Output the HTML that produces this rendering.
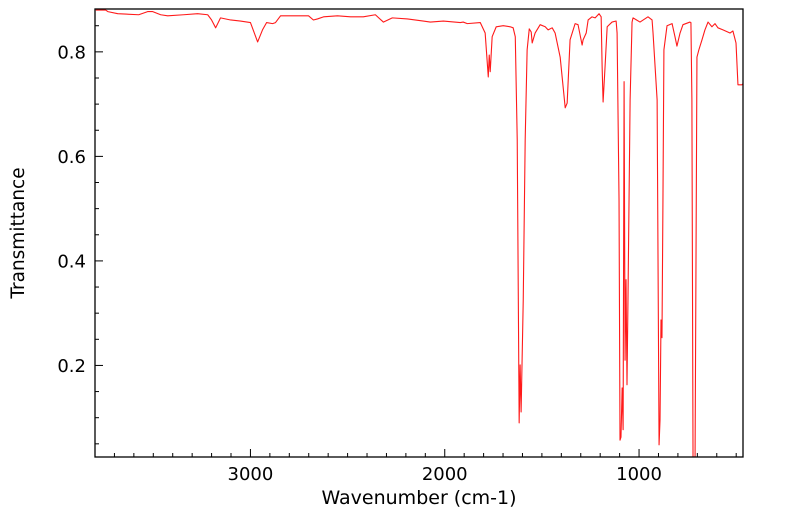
<!DOCTYPE html>
<html><head><meta charset="utf-8"><style>
html,body{margin:0;padding:0;background:#fff;}
svg{display:block;font-family:"DejaVu Sans","Liberation Sans",sans-serif;}
</style></head><body>
<svg id="chart" width="799" height="516" viewBox="0 0 799 516" xmlns="http://www.w3.org/2000/svg">
<defs><clipPath id="plotclip"><rect x="95" y="9" width="648" height="448"/></clipPath></defs>
<g id="axes"></g>
<path id="spectrum" fill="none" stroke="#ff1a1a" stroke-width="1.1" stroke-linejoin="round" clip-path="url(#plotclip)"/>
<rect x="95" y="9" width="648" height="448" fill="none" stroke="#000" stroke-width="1.3"/>
<text x="419" y="504" font-size="19" text-anchor="middle">Wavenumber (cm-1)</text>
<text x="24" y="233" font-size="18.5" text-anchor="middle" transform="rotate(-90 24 233)">Transmittance</text>
</svg>
<script>
const wavenumbers = [3796,3745,3734,3683,3575,3529,3503,3462,3426,3344,3272,3220,3200,3179,3154,3102,3051,3000,2963,2938,2917,2886,2871,2845,2794,2701,2676,2655,2624,2552,2485,2419,2357,2316,2270,2192,2110,2074,2007,1920,1905,1884,1817,1792,1776,1771,1766,1756,1735,1699,1663,1648,1637,1627,1617,1612,1607,1596,1586,1576,1565,1555,1550,1535,1509,1483,1468,1447,1432,1406,1380,1370,1355,1329,1314,1293,1288,1272,1262,1242,1226,1206,1195,1190,1185,1175,1164,1139,1118,1113,1103,1098,1093,1087,1082,1077,1072,1067,1062,1057,1046,1036,1031,995,954,933,928,907,897,892,887,882,877,872,856,830,815,805,789,774,738,733,728,722,712,702,692,676,661,645,625,609,594,568,532,517,501,491,470,455];
const transmittance = [0.880,0.880,0.877,0.873,0.871,0.877,0.877,0.871,0.869,0.871,0.873,0.871,0.861,0.846,0.865,0.861,0.859,0.856,0.819,0.842,0.856,0.854,0.856,0.869,0.869,0.869,0.861,0.863,0.867,0.869,0.867,0.867,0.871,0.857,0.865,0.863,0.859,0.857,0.859,0.856,0.857,0.854,0.856,0.836,0.752,0.794,0.762,0.829,0.848,0.850,0.848,0.846,0.829,0.632,0.090,0.201,0.111,0.325,0.632,0.804,0.844,0.838,0.817,0.836,0.852,0.848,0.842,0.846,0.836,0.790,0.693,0.702,0.823,0.854,0.852,0.813,0.823,0.836,0.861,0.867,0.865,0.873,0.867,0.771,0.704,0.771,0.848,0.857,0.859,0.836,0.517,0.057,0.063,0.157,0.077,0.743,0.210,0.364,0.163,0.325,0.708,0.857,0.865,0.857,0.867,0.861,0.836,0.708,0.048,0.096,0.287,0.253,0.517,0.804,0.850,0.854,0.829,0.811,0.836,0.852,0.857,0.856,0.708,0.0,0.0,0.790,0.804,0.823,0.842,0.857,0.848,0.854,0.846,0.842,0.836,0.840,0.817,0.737,0.737,0.743];
const xTickLabels = [3000,2000,1000];
const yTickLabels = [0.2,0.4,0.6,0.8];

const X0=95,X1=743,Y0=9,Y1=457;
const xMin=3800,xMax=465,yMin=0.0248,yMax=0.882;
function xs(v){return X0+(v-xMin)/(xMax-xMin)*(X1-X0);}
function ys(v){return Y1-(v-yMin)/(yMax-yMin)*(Y1-Y0);}
const NS="http://www.w3.org/2000/svg";
const axes=document.getElementById('axes');
function line(x1,y1,x2,y2,name){
  const l=document.createElementNS(NS,'line');
  l.setAttribute('x1',x1);l.setAttribute('y1',y1);l.setAttribute('x2',x2);l.setAttribute('y2',y2);
  l.setAttribute('stroke','#000');l.setAttribute('stroke-width','1');
  
  
  axes.appendChild(l);
}
function text(x,y,s,anchor,name){
  const t=document.createElementNS(NS,'text');
  t.setAttribute('x',x);t.setAttribute('y',y);t.setAttribute('font-size','18');t.setAttribute('text-anchor',anchor);
  t.textContent=s;
  
  
  axes.appendChild(t);
}
for(let w=3800;w>=500;w-=100){
  const x=xs(w); const major=(w%1000===0);
  line(x,Y1,x,Y1-(major?8:4),'x-tick');
}
xTickLabels.forEach(v=>text(xs(v),480,String(v),'middle','x-tick-label'));
for(let k=1;k<=17;k++){
  const v=k*0.05; const y=ys(v); if(y<Y0+1)continue;
  const major=(k%4===0);
  line(X0,y,X0+(major?8:4),y,'y-tick');
}
yTickLabels.forEach(v=>text(86,ys(v)+6.5,v.toFixed(1),'end','y-tick-label'));
let d='';
wavenumbers.forEach((w,i)=>{d+=(i?'L':'M')+xs(w).toFixed(2)+','+ys(transmittance[i]).toFixed(2);});
document.getElementById('spectrum').setAttribute('d',d);
</script>
</body></html>
